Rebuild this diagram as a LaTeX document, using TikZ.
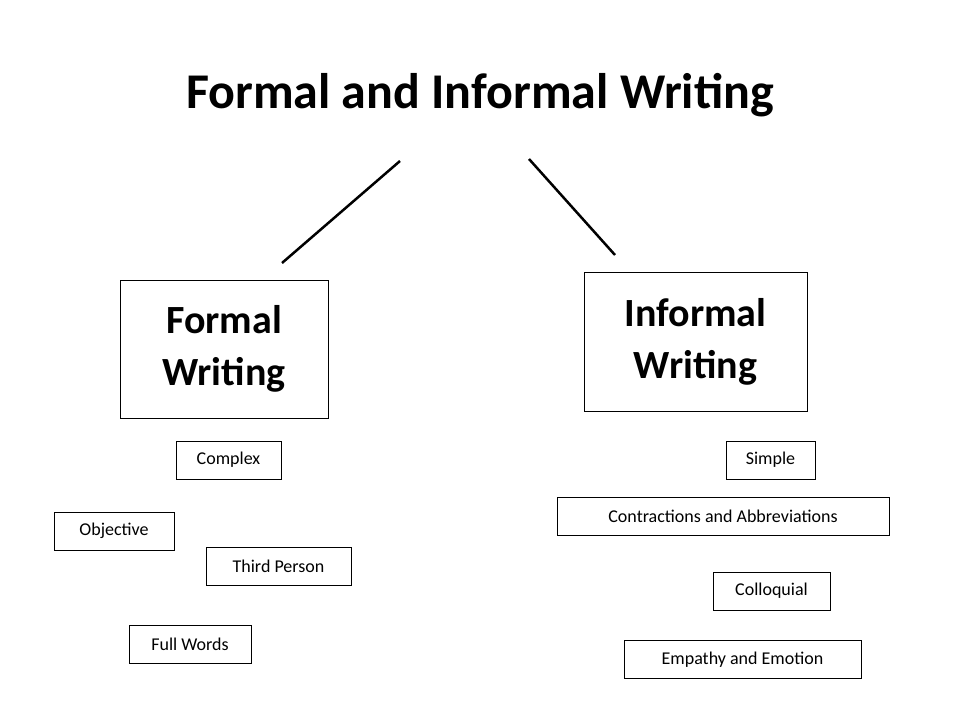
\documentclass[tikz,border=0pt]{standalone}
\usepackage{fontspec}
\setmainfont{Carlito}
\begin{document}
\begin{tikzpicture}[x=1pt, y=-1pt,
  big box/.style={draw, thick, align=center, inner sep=0pt, font=\fontsize{40}{52}\selectfont\bfseries},
  small box/.style={draw, inner sep=0pt, minimum height=38pt, font=\fontsize{18}{20}\selectfont}]
  \useasboundingbox (0,0) rectangle (960,720);
  \node (title) at (480,95) {\fontsize{50}{60}\selectfont\bfseries Formal and Informal Writing};

  \node (formal) [big box, minimum width=208pt, minimum height=138pt] at (224,349) {Formal\\Writing};
  \node (informal) [big box, minimum width=223pt, minimum height=139pt] at (695.5,341.5) {Informal\\Writing};

  \coordinate (l1) at (400,161);
  \coordinate (l2) at (282,263);
  \coordinate (r1) at (529,159);
  \coordinate (r2) at (615,255);
  \draw[line width=2.5pt] (l1) -- (l2);
  \draw[line width=2.5pt] (r1) -- (r2);

  \node (complex) [small box, minimum width=105pt] at (228.5,460) {Complex};
  \node (objective) [small box, minimum width=120pt] at (114,531) {Objective};
  \node (third) [small box, minimum width=145pt] at (278.5,566) {Third Person};
  \node (full) [small box, minimum width=122pt] at (190,644) {Full Words};

  \node (simple) [small box, minimum width=89pt] at (770.5,460) {Simple};
  \node (contract) [small box, minimum width=332pt] at (723,516) {Contractions and Abbreviations};
  \node (colloq) [small box, minimum width=117pt] at (771.5,591) {Colloquial};
  \node (empathy) [small box, minimum width=237pt] at (742.5,659.5) {Empathy and Emotion};
\end{tikzpicture}
\end{document}
